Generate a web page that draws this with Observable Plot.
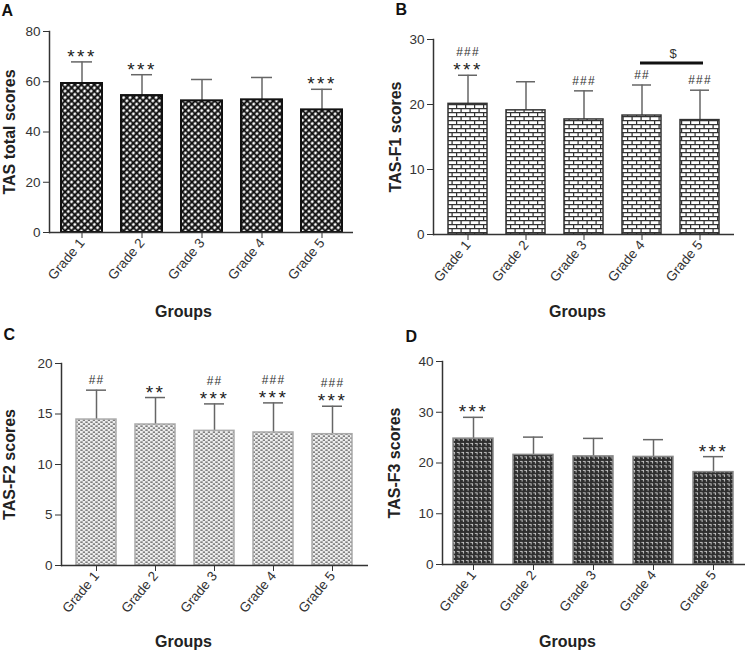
<!DOCTYPE html>
<html>
<head>
<meta charset="utf-8">
<script src="https://cdn.jsdelivr.net/npm/d3@7"></script>
<script src="https://cdn.jsdelivr.net/npm/@observablehq/plot@0.6"></script>
<style>
  body { margin: 0; background: #fff; }
  #wrap { position: relative; width: 750px; height: 652px; overflow: hidden; }
  .panel { position: absolute; }
</style>
</head>
<body>
<svg width="0" height="0" style="position:absolute">
  <defs>
    <pattern id="patA" width="4.6" height="4.6" patternUnits="userSpaceOnUse" patternTransform="rotate(45)">
      <rect width="4.6" height="4.6" fill="#fff"/>
      <path d="M0,2.3H4.6M2.3,0V4.6" stroke="#0a0a0a" stroke-width="2"/>
    </pattern>
    <pattern id="patB" width="9" height="8" patternUnits="userSpaceOnUse">
      <rect width="9" height="8" fill="#fff"/>
      <path d="M0,0.6H9M0,4.6H9M0.6,0.6V4.6M5.1,4.6V8" stroke="#333" stroke-width="1.25"/>
    </pattern>
    <pattern id="patC" width="5" height="4" patternUnits="userSpaceOnUse">
      <rect width="5" height="4" fill="#eeeeee"/>
      <path d="M0.3,0.4h2.4v1.4h-2.4z M2.8,2.4h2.4v1.4h-2.4z" fill="#5a5a5a"/>
    </pattern>
    <pattern id="patD" width="4.5" height="4.5" patternUnits="userSpaceOnUse">
      <rect width="4.5" height="4.5" fill="#2e2e2e"/>
      <path d="M0.8,0.8h2.8v2.8h-1v-1.8h-1.8z" fill="#c8c8c8"/>
    </pattern>
  </defs>
</svg>
<div id="wrap"></div>
<script>
// ---- data ----
const groups = ["Grade 1", "Grade 2", "Grade 3", "Grade 4", "Grade 5"];

const meanA = [59.3, 54.5, 52.4, 52.8, 48.8];
const sdA   = [8.6, 8.3, 8.5, 8.9, 8.2];
const starsA = ["***", "***", "", "", "***"];
const hashA  = ["", "", "", "", ""];
const ticksA = [0, 20, 40, 60, 80];

const meanB = [20.1, 19.1, 17.7, 18.3, 17.6];
const sdB   = [4.4, 4.4, 4.4, 4.7, 4.6];
const starsB = ["***", "", "", "", ""];
const hashB  = ["###", "", "###", "##", "###"];
const ticksB = [0, 10, 20, 30];
const bracketB = [{from: "Grade 4", to: "Grade 5", y: 26.4, text: "$"}];

const meanC = [14.45, 13.96, 13.33, 13.17, 13.0];
const sdC   = [2.91, 2.67, 2.67, 2.93, 2.77];
const starsC = ["", "**", "***", "***", "***"];
const hashC  = ["##", "", "##", "###", "###"];
const ticksC = [0, 5, 10, 15, 20];

const meanD = [24.8, 21.6, 21.3, 21.2, 18.2];
const sdD   = [4.2, 3.5, 3.55, 3.4, 3.05];
const starsD = ["***", "", "", "", "***"];
const hashD  = ["", "", "", "", ""];
const ticksD = [0, 10, 20, 30, 40];

const FONT = "Liberation Sans, Arial, Helvetica, sans-serif";

function panel(cfg) {
  const data = groups.map((g, i) => ({group: g, mean: cfg.mean[i], top: cfg.mean[i] + cfg.sd[i]}));
  const ann = [];
  groups.forEach((g, i) => {
    const top = cfg.mean[i] + cfg.sd[i];
    let level = 0;
    if (cfg.stars[i]) { ann.push({group: g, top, text: cfg.stars[i], kind: "star", level: 0}); level = 1; }
    if (cfg.hash[i]) ann.push({group: g, top, text: cfg.hash[i], kind: "hash", level});
  });
  const W = 375, H = cfg.height;
  const m = cfg.margin;
  const frameCx = (m.left + (W - m.right)) / 2;
  const frameBottom = H - m.bottom;
  const marks = [
    Plot.ruleX(data, {x: "group", y1: "mean", y2: "top", stroke: "#666", strokeWidth: 1.5}),
    Plot.tickY(data, {x: "group", y: "top", stroke: "#666", strokeWidth: 1.5, insetLeft: 10, insetRight: 10}),
    Plot.barY(data, {x: "group", y: "mean", fill: cfg.fill, stroke: cfg.stroke, strokeWidth: cfg.sw}),
    Plot.ruleY([0], {stroke: "#333", strokeWidth: 1.5}),
    Plot.frame({anchor: "left", stroke: "#333", strokeWidth: 1.5}),
    Plot.axisY({ticks: cfg.ticks, tickSize: 6, tickPadding: 3, fontSize: 13.5, label: null, tickFormat: d => String(d)}),
    Plot.axisX({tickRotate: -50, tickSize: 6, tickPadding: 2, fontSize: 13.5, label: null}),
    Plot.text(ann.filter(d => d.kind === "star"), {x: "group", y: "top", text: "text", dy: -5, fontSize: 19, fill: "#222"}),
    Plot.text(ann.filter(d => d.kind === "hash" && d.level === 0), {x: "group", y: "top", text: "text", dy: -10, fontSize: 12, fill: "#333"}),
    Plot.text(ann.filter(d => d.kind === "hash" && d.level === 1), {x: "group", y: "top", text: "text", dy: -23, fontSize: 12, fill: "#333"}),
    // axis titles and panel letter
    Plot.text([cfg.ylabel], {text: d => d, frameAnchor: "left", dx: cfg.ylabelX - m.left, rotate: -90, textAnchor: "middle", lineAnchor: "middle", fontSize: 16, fontWeight: "bold", fill: "#222"}),
    Plot.text(["Groups"], {text: d => d, frameAnchor: "bottom", dx: cfg.xlabelX - frameCx, dy: cfg.xlabelY - frameBottom, textAnchor: "middle", lineAnchor: "middle", fontSize: 16, fontWeight: "bold", fill: "#222"}),
    Plot.text([cfg.letter], {text: d => d, frameAnchor: "top-left", dx: cfg.letterX - m.left, dy: cfg.letterY - m.top, textAnchor: "start", lineAnchor: "top", fontSize: 16, fontWeight: "bold", fill: "#111"})
  ];
  if (cfg.brackets) {
    marks.push(Plot.ruleY(cfg.brackets, {y: "y", x1: "from", x2: "to", insetLeft: 18, insetRight: 16, stroke: "#111", strokeWidth: 3}));
    marks.push(Plot.text(cfg.brackets, {x: d => d.from, y: "y", text: "text", dx: 31, dy: -9, fontSize: 13, fill: "#333"}));
  }
  const svg = Plot.plot({
    width: W, height: H,
    marginLeft: m.left, marginRight: m.right, marginTop: m.top, marginBottom: m.bottom,
    style: {fontFamily: FONT, fontSize: "13px", color: "#333", background: "transparent", overflow: "visible"},
    x: {domain: groups, paddingInner: cfg.pi, paddingOuter: cfg.po, label: null},
    y: {domain: cfg.domain, label: null},
    marks
  });
  d3.select(svg).selectAll("text").filter(function() { return /^\*+$/.test(this.textContent); })
    .attr("letter-spacing", "2.4");
  d3.select(svg).selectAll("text").filter(function() { return /^#+$/.test(this.textContent); })
    .attr("letter-spacing", "1.2");
  const div = document.createElement("div");
  div.className = "panel";
  div.style.left = cfg.left + "px";
  div.style.top = cfg.top + "px";
  div.appendChild(svg);
  document.getElementById("wrap").appendChild(div);
}

panel({left: 0, top: 0, height: 325, margin: {left: 49, right: 22, top: 31, bottom: 93},
  mean: meanA, sd: sdA, stars: starsA, hash: hashA, ticks: ticksA, domain: [0, 80],
  fill: "url(#patA)", stroke: "#111", sw: 2, pi: 0.32, po: 0.17,
  ylabel: "TAS total scores", ylabelX: 9, xlabelX: 183, xlabelY: 311, letter: "A", letterX: 1, letterY: 4});

panel({left: 375, top: 0, height: 325, margin: {left: 58, right: 16, top: 39, bottom: 91},
  mean: meanB, sd: sdB, stars: starsB, hash: hashB, ticks: ticksB, domain: [0, 30],
  fill: "url(#patB)", stroke: "#333", sw: 1.5, pi: 0.326, po: 0.22, brackets: bracketB,
  ylabel: "TAS-F1 scores", ylabelX: 20, xlabelX: 202, xlabelY: 311, letter: "B", letterX: 20, letterY: 3});

panel({left: 0, top: 325, height: 327, margin: {left: 61, right: 7, top: 38, bottom: 87},
  mean: meanC, sd: sdC, stars: starsC, hash: hashC, ticks: ticksC, domain: [0, 20],
  fill: "url(#patC)", stroke: "#aaa", sw: 1.5, pi: 0.32, po: 0.22,
  ylabel: "TAS-F2 scores", ylabelX: 9, xlabelX: 183, xlabelY: 316, letter: "C", letterX: 3, letterY: 3});

panel({left: 375, top: 325, height: 327, margin: {left: 67, right: 5, top: 36, bottom: 88},
  mean: meanD, sd: sdD, stars: starsD, hash: hashD, ticks: ticksD, domain: [0, 40],
  fill: "url(#patD)", stroke: "#888", sw: 1.5, pi: 0.33, po: 0.17,
  ylabel: "TAS-F3 scores", ylabelX: 19, xlabelX: 192, xlabelY: 316, letter: "D", letterX: 30, letterY: 5});
</script>
</body>
</html>
